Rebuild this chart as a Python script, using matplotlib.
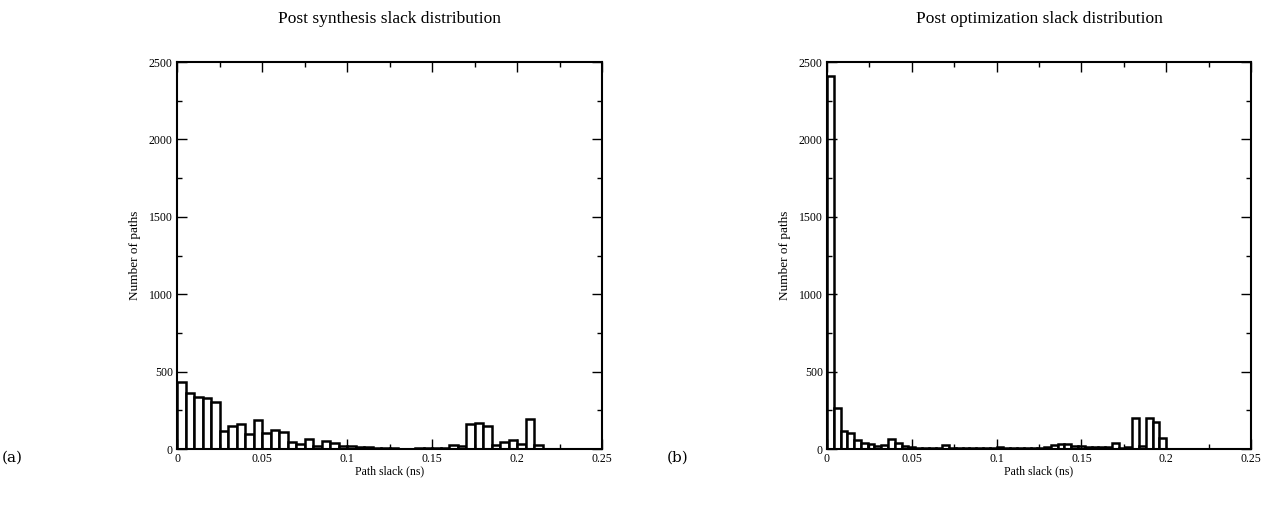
import numpy as np
import matplotlib
matplotlib.use("Agg")
import matplotlib.pyplot as plt
from matplotlib.ticker import MultipleLocator

# histogram counts
synth_bin_width = 0.005
synth_counts = [435, 362, 338, 332, 301, 116, 148, 161, 95, 185,
                106, 126, 112, 48, 33, 67, 20, 53, 38, 20,
                17, 15, 10, 6, 5, 4, 3, 3, 4, 5,
                6, 5, 26, 17, 161, 168, 146, 26, 43, 56,
                34, 191, 26, 2, 2, 1, 1, 1, 1, 1]

opt_bin_width = 0.004
opt_counts = [2410, 267, 116, 101, 56, 37, 30, 17, 26, 65,
              39, 17, 10, 8, 6, 8, 6, 24, 8, 6,
              5, 6, 8, 5, 6, 10, 6, 8, 6, 5,
              6, 8, 12, 25, 32, 33, 20, 18, 12, 15,
              10, 15, 42, 8, 15, 198, 22, 198, 172, 73]

titles = ["Post synthesis slack distribution", "Post optimization slack distribution"]
panel_labels = ["(a)", "(b)"]

plt.rcParams['font.family'] = ['Liberation Serif', 'DejaVu Serif']

fig = plt.figure(figsize=(12.68, 5.2), dpi=100)
ax_a = fig.add_axes([0.1396, 0.1365, 0.3352, 0.7442])
ax_b = fig.add_axes([0.6522, 0.1365, 0.3344, 0.7442])

for ax, counts, bw, title in zip([ax_a, ax_b],
                                 [synth_counts, opt_counts],
                                 [synth_bin_width, opt_bin_width],
                                 titles):
    edges = np.arange(len(counts)) * bw
    ax.bar(edges, counts, width=bw, align='edge', facecolor='white',
           edgecolor='black', linewidth=1.8)
    ax.set_xlim(0, 0.25)
    ax.set_ylim(0, 2500)
    ax.xaxis.set_minor_locator(MultipleLocator(0.025))
    ax.yaxis.set_major_locator(MultipleLocator(500))
    ax.yaxis.set_minor_locator(MultipleLocator(250))
    ax.set_xticks([0, 0.05, 0.1, 0.15, 0.2, 0.25])
    ax.set_xticklabels(["0", "0.05", "0.1", "0.15", "0.2", "0.25"])
    ax.tick_params(which='both', direction='in', top=True, right=True,
                   labelsize=8.5, width=1, pad=3)
    ax.tick_params(which='major', length=7)
    ax.tick_params(which='minor', length=3.5)
    for s in ax.spines.values():
        s.set_linewidth(1.5)
    ax.set_xlabel("Path slack (ns)", fontsize=8.5, labelpad=0)
    ax.set_ylabel("Number of paths", fontsize=9.5, labelpad=6)
    ax.set_title(title, fontsize=12.5, pad=28)

fig.text(0.001, 0.12, panel_labels[0], fontsize=11, ha='left', va='center',
         family=['DejaVu Serif'])
fig.text(0.526, 0.12, panel_labels[1], fontsize=11, ha='left', va='center',
         family=['DejaVu Serif'])

fig.savefig("out.png", dpi=100)
